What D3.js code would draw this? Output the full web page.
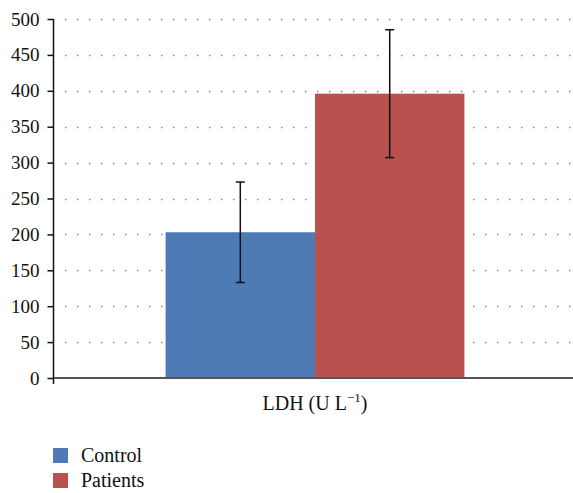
<!DOCTYPE html>
<html>
<head>
<meta charset="utf-8">
<script src="https://cdn.jsdelivr.net/npm/d3@7"></script>
<style>
  body { margin: 0; background: #fff; }
</style>
</head>
<body>
<div id="vis"></div>
<script>
// data
const categories = ["LDH"];
const groups = ["Control", "Patients"];
const means = [203, 396];
const errors = [70, 89];
const colors = ["#4E7BB5", "#B9514F"];
const yTicks = [0, 50, 100, 150, 200, 250, 300, 350, 400, 450, 500];

const FRAME_WIDTH = 573;
const FRAME_HEIGHT = 493;
const SERIF = "'Liberation Serif', 'Times New Roman', 'DejaVu Serif', serif";

const svg = d3.select("#vis")
    .append("svg")
    .attr("width", FRAME_WIDTH)
    .attr("height", FRAME_HEIGHT)
    .style("font-family", SERIF);

const yScale = d3.scaleLinear()
    .domain([0, 500])
    .range([378, 19]);

const xOuter = d3.scaleBand()
    .domain(categories)
    .range([53, 577]);

const xInner = d3.scaleBand()
    .domain(groups)
    .range([0, xOuter.bandwidth()])
    .paddingOuter(0.7535)
    .paddingInner(0);

// dotted gridlines
svg.append("g")
    .selectAll("line")
    .data(yTicks.filter(d => d > 0))
    .enter()
    .append("line")
    .attr("x1", 65)
    .attr("x2", 572)
    .attr("y1", d => Math.round(yScale(d)) + 0.5)
    .attr("y2", d => Math.round(yScale(d)) + 0.5)
    .attr("stroke", "#888")
    .attr("stroke-width", 1.5)
    .attr("stroke-dasharray", "1.5,10.5");

// bars
const barG = svg.append("g")
    .attr("transform", `translate(${xOuter("LDH")}, 0)`);

barG.selectAll("rect")
    .data(groups)
    .enter()
    .append("rect")
    .attr("x", d => xInner(d))
    .attr("y", (d, i) => yScale(means[i]))
    .attr("width", xInner.bandwidth())
    .attr("height", (d, i) => yScale(0) - yScale(means[i]))
    .attr("fill", (d, i) => colors[i]);

// error bars
const errG = barG.selectAll(".err")
    .data(groups)
    .enter()
    .append("g")
    .attr("class", "err")
    .attr("stroke", "#111")
    .attr("stroke-width", 1.5);

errG.append("line")
    .attr("x1", d => xInner(d) + xInner.bandwidth() / 2)
    .attr("x2", d => xInner(d) + xInner.bandwidth() / 2)
    .attr("y1", (d, i) => yScale(means[i] + errors[i]))
    .attr("y2", (d, i) => yScale(means[i] - errors[i]));

errG.append("line")
    .attr("x1", d => xInner(d) + xInner.bandwidth() / 2 - 4.5)
    .attr("x2", d => xInner(d) + xInner.bandwidth() / 2 + 4.5)
    .attr("y1", (d, i) => yScale(means[i] + errors[i]))
    .attr("y2", (d, i) => yScale(means[i] + errors[i]));

errG.append("line")
    .attr("x1", d => xInner(d) + xInner.bandwidth() / 2 - 4.5)
    .attr("x2", d => xInner(d) + xInner.bandwidth() / 2 + 4.5)
    .attr("y1", (d, i) => yScale(means[i] - errors[i]))
    .attr("y2", (d, i) => yScale(means[i] - errors[i]));

// x axis line
svg.append("line")
    .attr("x1", 53)
    .attr("x2", 573)
    .attr("y1", yScale(0))
    .attr("y2", yScale(0))
    .attr("stroke", "#555")
    .attr("stroke-width", 2);

// y axis
const yAxis = d3.axisLeft(yScale)
    .tickValues(yTicks)
    .tickSize(6)
    .tickPadding(8);

const yG = svg.append("g")
    .attr("transform", "translate(53.5, 0)")
    .call(yAxis);

yG.attr("font-family", null).attr("font-size", null);
yG.select(".domain").remove();
yG.selectAll(".tick line").attr("stroke", "#111").attr("stroke-width", 1.5);
yG.selectAll(".tick text")
    .style("font-family", SERIF)
    .style("font-size", "19px")
    .attr("fill", "#111");

svg.append("line")
    .attr("x1", 53.5)
    .attr("x2", 53.5)
    .attr("y1", yScale(500))
    .attr("y2", yScale(0) + 6)
    .attr("stroke", "#111")
    .attr("stroke-width", 1.5);

// x label
const xLabel = svg.append("text")
    .attr("x", xOuter("LDH") + xOuter.bandwidth() / 2)
    .attr("y", 410)
    .attr("text-anchor", "middle")
    .attr("fill", "#111")
    .style("font-family", SERIF)
    .style("font-size", "20px");
xLabel.append("tspan").text("LDH (U L");
xLabel.append("tspan").style("font-size", "13px").attr("dy", -8).text("\u22121");
xLabel.append("tspan").attr("dy", 8).text(")");

// legend
const legend = svg.append("g")
    .selectAll("g")
    .data(groups)
    .enter()
    .append("g")
    .attr("transform", (d, i) => `translate(53, ${448 + i * 25})`);

legend.append("rect")
    .attr("width", 15)
    .attr("height", 15)
    .attr("fill", (d, i) => colors[i]);

legend.append("text")
    .attr("x", 28)
    .attr("y", 14)
    .attr("fill", "#111")
    .style("font-family", SERIF)
    .style("font-size", "20px")
    .text(d => d);
</script>
</body>
</html>
